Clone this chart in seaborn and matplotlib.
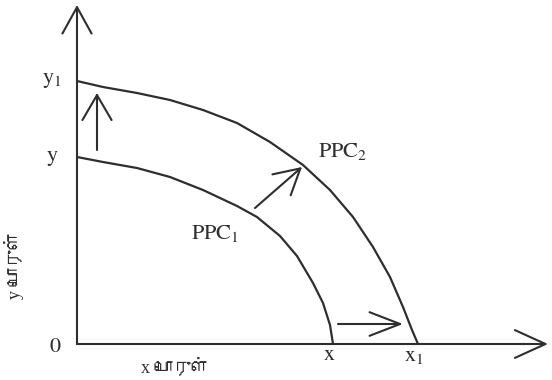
import matplotlib
matplotlib.use("Agg")
import matplotlib.pyplot as plt
import seaborn as sns
import pandas as pd
from matplotlib import font_manager
from matplotlib.ft2font import FT2Font

# ---- data (origin at the axes corner) ----
ppc1_x = [0, 26, 60, 93, 126, 160, 180, 203, 220, 236, 246, 253, 256]
ppc1_y = [187, 182, 176, 167, 154, 138, 127, 108, 88, 61, 41, 19, 0]
ppc2_x = [0, 26, 60, 93, 126, 160, 193, 226, 253, 276, 296, 313, 326, 335, 341]
ppc2_y = [263, 257, 251, 244, 234, 221, 202, 179, 154, 127, 97, 67, 37, 14, 0]

x_axis_end = 471
y_axis_end = 339

shift_up = [(20, 194), (20, 251)]
shift_diag = [(178, 136), (225, 177)]
shift_right = [(261, 20), (326, 20)]

tick_labels = {
    "y1": (r"$\mathrm{y}_1$", -25, 264),
    "y": (r"$\mathrm{y}$", -25, 186),
    "0": (r"$0$", -22, -3),
    "x": (r"$\mathrm{x}$", 252, -11),
    "x1": (r"$\mathrm{x}_1$", 337, -13),
}
curve_labels = [(r"$\mathrm{PPC}_1$", 138, 111), (r"$\mathrm{PPC}_2$", 266, 193)]
x_title = "x பொருள்"
y_title = "y பொருள்"

# ---- find a font with Tamil glyphs if any ----
tamil_family = None
for f in font_manager.fontManager.ttflist:
    try:
        ft = FT2Font(f.fname)
        if 0x0BAA in ft.get_charmap():
            tamil_family = f.name
            break
    except Exception:
        pass
tam_fam = ["Liberation Serif"] + ([tamil_family] if tamil_family else []) + ["DejaVu Sans"]

sns.set_theme(style="white")
plt.rcParams["font.family"] = ["Liberation Serif", "DejaVu Sans"]
plt.rcParams["mathtext.fontset"] = "stix"

fig = plt.figure(figsize=(5.52, 3.80), dpi=100)
ax = fig.add_axes([0, 0, 1, 1])
ax.set_xlim(-77, 475)
ax.set_ylim(-36, 344)
ax.axis("off")

ink = "#2e2e2e"
df = pd.concat([
    pd.DataFrame({"x": ppc1_x, "y": ppc1_y, "c": "PPC1"}),
    pd.DataFrame({"x": ppc2_x, "y": ppc2_y, "c": "PPC2"}),
])
sns.lineplot(data=df, x="x", y="y", units="c", estimator=None, sort=False,
             color=ink, linewidth=1.6, ax=ax, legend=False)
for line in ax.lines:
    line.set_solid_joinstyle("round")

def arrow(p0, p1, hl, hw, lw=1.5):
    ax.annotate("", xy=p1, xytext=p0,
                arrowprops=dict(arrowstyle=f"->,head_length={hl},head_width={hw}",
                                mutation_scale=10, color=ink, lw=lw,
                                shrinkA=0, shrinkB=0))

# axes with open arrowheads
arrow((0, 0), (0, y_axis_end), 1.9, 1.05)
arrow((0, 0), (x_axis_end, 0), 2.2, 1.0)
# shift arrows
arrow(*shift_up, 1.8, 1.05)
arrow(*shift_diag, 1.8, 1.0)
arrow(*shift_right, 2.2, 0.85)

for key, (txt, x, y) in tick_labels.items():
    ax.text(x, y, txt, fontsize=16, color=ink, ha="center", va="center")
for txt, x, y in curve_labels:
    ax.text(x, y, txt, fontsize=16, color=ink, ha="center", va="center")

ax.text(98, -23, x_title, fontsize=13, color=ink, ha="center", va="center", family=tam_fam)
ax.text(-63, 79, y_title, fontsize=13, color=ink, ha="center", va="center",
        rotation=90, family=tam_fam)

fig.savefig("out.png", dpi=100, facecolor="white")
